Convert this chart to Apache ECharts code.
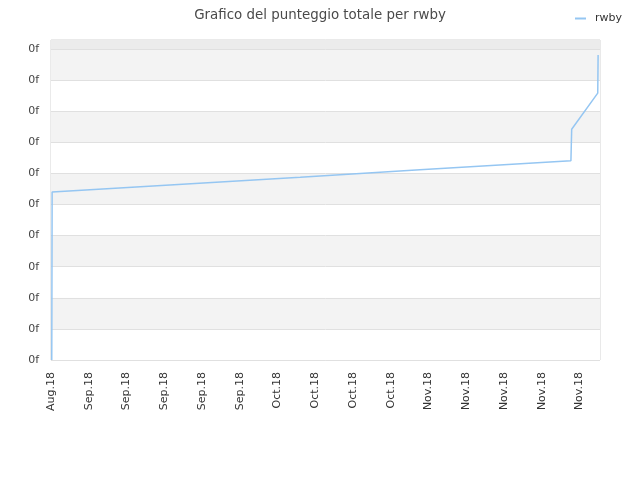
<!DOCTYPE html>
<html>
<head>
<meta charset="utf-8">
<script src="https://cdn.jsdelivr.net/npm/echarts@6/dist/echarts.min.js"></script>
<style>html,body{margin:0;padding:0;background:#fff}#c{width:640px;height:480px}</style>
</head>
<body>
<div id="c"></div>
<script>
// tick labels along the x axis (one per tick position)
var tickLabels = ['Aug.18','Sep.18','Sep.18','Sep.18','Sep.18','Sep.18','Oct.18','Oct.18','Oct.18','Oct.18','Nov.18','Nov.18','Nov.18','Nov.18','Nov.18'];
// x positions (in tick units) and total score values
var seriesX = [0.02, 0.03, 6.60, 9.77, 13.77, 13.79, 14.48, 14.49];
var seriesY = [0.00, 5.40, 5.88, 6.12, 6.41, 7.42, 8.58, 9.81];
var seriesName = 'rwby';

var data = seriesX.map(function (x, i) { return [x, seriesY[i]]; });
var font = 'DejaVu Sans';
var chart = echarts.init(document.getElementById('c'), null, {renderer: 'canvas'});
chart.setOption({
  animation: false,
  textStyle: {fontFamily: font},
  title: {
    text: 'Grafico del punteggio totale per rwby',
    left: 'center', top: 4,
    textStyle: {fontFamily: font, fontSize: 13.4, fontWeight: 'normal', color: '#4a4a4a'}
  },
  legend: {
    data: [seriesName], right: 13, top: 8,
    icon: 'rect', itemWidth: 11, itemHeight: 2, itemGap: 5,
    textStyle: {fontFamily: font, fontSize: 11, color: '#333', padding: [0, 0, 0, 4]}
  },
  grid: {left: 51, right: 40, top: 40, bottom: 120, show: true, borderColor: '#d4d4d4', borderWidth: 1, backgroundColor: 'transparent'},
  xAxis: {
    type: 'value', min: 0, max: 14.54, interval: 1,
    axisLine: {show: false}, axisTick: {show: false}, splitLine: {show: false},
    axisLabel: {
      rotate: 90, fontSize: 11, color: '#333', fontFamily: font, margin: 12,
      showMaxLabel: false,
      formatter: function (v) { var i = Math.round(v); return Math.abs(v - i) < 1e-6 && tickLabels[i] ? tickLabels[i] : ''; }
    }
  },
  yAxis: {
    type: 'value', min: 0, max: 10.29, interval: 1,
    axisLine: {show: false}, axisTick: {show: false},
    splitLine: {show: true, lineStyle: {color: '#e0e0e0', width: 1}},
    splitArea: {show: true, areaStyle: {color: ['#ffffff', '#f3f3f3']}},
    axisLabel: {fontSize: 11, color: '#444', fontFamily: font, margin: 12, showMaxLabel: false,
      formatter: function () { return '0f'; }}
  },
  series: [{
    name: seriesName, type: 'line', data: data, showSymbol: false, symbol: 'none',
    lineStyle: {color: '#95c6f2', width: 1.5}, itemStyle: {color: '#95c6f2'},
    markArea: {silent: true, itemStyle: {color: '#ececec'}, data: [[{yAxis: 10}, {yAxis: 10.29}]]}
  }]
});
</script>
</body>
</html>
